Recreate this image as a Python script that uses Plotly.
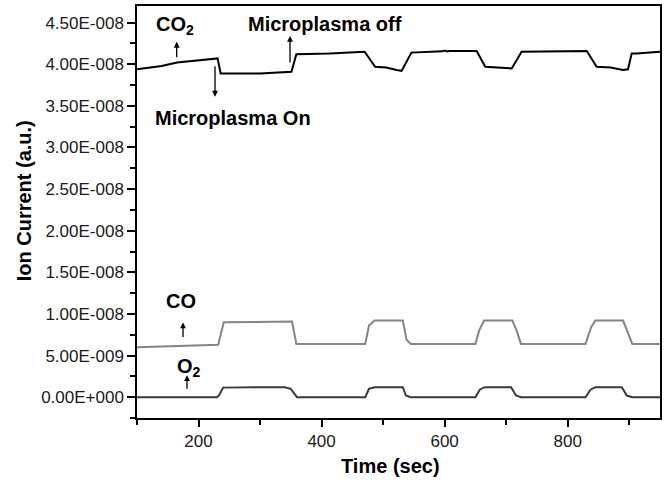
import plotly.graph_objects as go

# ---- data (values in units of 1e-8 A) ----
co2_t = [100, 140, 165, 225, 231, 236, 300, 351, 359, 413, 470, 487, 505, 522, 530, 546, 580, 596, 600, 604, 608, 652, 666, 690, 709, 725, 800, 831, 847, 870, 890, 898, 904, 912, 950]
co2_v = [3.94, 3.98, 4.02, 4.07, 4.07, 3.89, 3.89, 3.91, 4.12, 4.13, 4.15, 3.97, 3.96, 3.93, 3.92, 4.14, 4.15, 4.155, 4.165, 4.155, 4.16, 4.16, 3.97, 3.96, 3.95, 4.15, 4.16, 4.16, 3.97, 3.96, 3.93, 3.94, 4.13, 4.13, 4.15]

co_t = [100, 232, 241, 300, 352, 359, 471, 477, 486, 532, 538, 545, 650, 656, 664, 710, 717, 724, 829, 838, 845, 890, 898, 905, 950]
co_v = [0.60, 0.63, 0.90, 0.905, 0.91, 0.64, 0.64, 0.86, 0.92, 0.92, 0.69, 0.64, 0.64, 0.80, 0.92, 0.92, 0.80, 0.64, 0.64, 0.84, 0.92, 0.92, 0.78, 0.64, 0.64]

o2_t = [100, 230, 233, 240, 300, 340, 350, 360, 471, 477, 486, 532, 537, 545, 650, 657, 665, 708, 716, 724, 829, 837, 845, 888, 896, 905, 950]
o2_v = [0.0, 0.0, 0.02, 0.115, 0.12, 0.12, 0.10, 0.0, 0.0, 0.10, 0.12, 0.12, 0.02, 0.0, 0.0, 0.09, 0.12, 0.12, 0.02, 0.0, 0.0, 0.09, 0.12, 0.12, 0.02, 0.0, 0.0]

y_tickvals = [0, 0.5e-8, 1.0e-8, 1.5e-8, 2.0e-8, 2.5e-8, 3.0e-8, 3.5e-8, 4.0e-8, 4.5e-8]
y_ticktext = ["0.00E+000", "5.00E-009", "1.00E-008", "1.50E-008", "2.00E-008",
              "2.50E-008", "3.00E-008", "3.50E-008", "4.00E-008", "4.50E-008"]
x_tickvals = [200, 400, 600, 800]

scale = 1e-8
FONT = "Liberation Sans, Arial, sans-serif"

fig = go.Figure()
fig.add_trace(go.Scatter(x=co2_t, y=[v * scale for v in co2_v], mode="lines",
                         line=dict(color="#000000", width=2), showlegend=False))
fig.add_trace(go.Scatter(x=co_t, y=[v * scale for v in co_v], mode="lines",
                         line=dict(color="#858585", width=2), showlegend=False))
fig.add_trace(go.Scatter(x=o2_t, y=[v * scale for v in o2_v], mode="lines",
                         line=dict(color="#3a3a3a", width=2), showlegend=False))

axis_common = dict(showline=True, linecolor="black", linewidth=1.5, mirror=True,
                   ticks="outside", tickcolor="black", tickwidth=1.5,
                   showgrid=False, zeroline=False,
                   tickfont=dict(family=FONT, size=17, color="#1a1a1a"))

fig.update_xaxes(range=[100, 950], tickmode="array", tickvals=x_tickvals,
                 ticktext=[str(v) for v in x_tickvals], ticklen=7,
                 minor=dict(ticks="outside", dtick=100, tick0=100, ticklen=5,
                            tickcolor="black", tickwidth=1.5),
                 **axis_common)
fig.update_yaxes(range=[-0.25e-8, 4.7e-8], tickmode="array", tickvals=y_tickvals,
                 ticktext=y_ticktext, ticklen=8,
                 minor=dict(ticks="outside", dtick=0.25e-8, tick0=0, ticklen=5,
                            tickcolor="black", tickwidth=1.5),
                 **axis_common)

bold = dict(family=FONT, size=20, color="black")
ann = []
# text labels
ann.append(dict(x=162, y=4.46e-8, text="<b>CO<sub>2</sub></b>", showarrow=False, font=bold))
ann.append(dict(x=405, y=4.485e-8, text="<b>Microplasma off</b>", showarrow=False, font=bold))
ann.append(dict(x=256, y=3.35e-8, text="<b>Microplasma On</b>", showarrow=False, font=bold))
ann.append(dict(x=171.5, y=1.16e-8, text="<b>CO</b>", showarrow=False, font=bold))
ann.append(dict(x=185, y=0.36e-8, text="<b>O<sub>2</sub></b>", showarrow=False, font=bold))
# arrows
arrow = dict(showarrow=True, arrowhead=2, arrowsize=0.9, arrowwidth=1.3,
             arrowcolor="black", text="", ax=0)
ann.append(dict(x=164.5, y=4.27e-8, ay=17, **arrow))
ann.append(dict(x=348.7, y=4.34e-8, ay=28, **arrow))
ann.append(dict(x=226.8, y=3.61e-8, ay=-32, **arrow))
ann.append(dict(x=174.8, y=0.898e-8, ay=16, **arrow))
ann.append(dict(x=181.3, y=0.264e-8, ay=15, **arrow))
# axis titles
ann.append(dict(xref="paper", yref="paper", x=0.484, y=-0.116, text="<b>Time (sec)</b>",
                showarrow=False, font=bold, xanchor="center", yanchor="middle"))
ann.append(dict(xref="paper", yref="paper", x=-0.216, y=0.526, text="<b>Ion Current (a.u.)</b>",
                showarrow=False, font=bold, textangle=-90, xanchor="center", yanchor="middle"))

fig.update_layout(width=668, height=480, margin=dict(l=137, r=8, t=4, b=62),
                  paper_bgcolor="white", plot_bgcolor="white", annotations=ann,
                  font=dict(family=FONT))

fig.write_html("out.html")
